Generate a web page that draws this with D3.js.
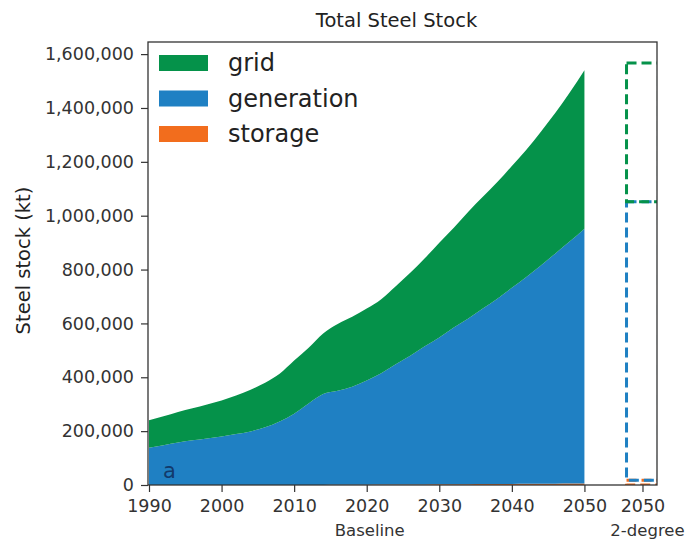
<!DOCTYPE html>
<html>
<head>
<meta charset="utf-8">
<script src="https://cdn.jsdelivr.net/npm/d3@7"></script>
<style>
  body { margin: 0; background: #fff; }
  text { font-family: "DejaVu Sans", sans-serif; }
</style>
</head>
<body>
<svg id="chart" width="689" height="539"></svg>
<script>
// Baseline scenario, steel stock in kt
const years = [1990, 1992, 1994, 1996, 1998, 2000, 2002, 2004, 2006, 2008, 2010, 2012, 2014, 2016, 2018, 2020,
               2022, 2024, 2026, 2028, 2030, 2032, 2034, 2036, 2038, 2040, 2042, 2044, 2046, 2048, 2050];
const storage = [0, 0, 0, 0, 0, 0, 0, 0, 0, 0, 0, 0, 300, 600, 900, 1200,
                 1500, 1800, 2100, 2300, 2600, 2900, 3100, 3400, 3700, 4000, 4300, 4600, 4900, 5200, 5500];
const generation = [138000, 148000, 158000, 166000, 173000, 180000, 189000, 199000, 214000, 236000, 265000, 303000, 337700, 349400, 364100, 386800,
                    413500, 446200, 477900, 512700, 545400, 582100, 614900, 651600, 688300, 728000, 767700, 810400, 855100, 899800, 946500];
const grid = [102000, 107000, 113000, 119000, 126000, 134000, 143000, 155000, 166000, 177000, 197000, 207000, 225000, 248000, 260000, 267000,
              275000, 290000, 308000, 327000, 352000, 370000, 397000, 415000, 433000, 453000, 473000, 497000, 522000, 553000, 588000];

// 2-degree scenario, 2050 stock (kt)
const scenarioKeys = ["storage", "generation", "grid"];
const scenarioValues = [18000, 1034000, 515000];

const seriesKeys = ["storage", "generation", "grid"];
const legendKeys = ["grid", "generation", "storage"];
const colors = { grid: "#05924a", generation: "#1f80c3", storage: "#f26d1d" };

const yTicks = [0, 200000, 400000, 600000, 800000, 1000000, 1200000, 1400000, 1600000];
const xTicks = [1990, 2000, 2010, 2020, 2030, 2040, 2050];
const scenarioPos = 2058;
const scenarioTickLabel = "2050";
const scenarioNames = ["Baseline", "2-degree"];

const svg = d3.select("#chart");
svg.append("rect").attr("width", 689).attr("height", 539).attr("fill", "#fff");

const pLeft = 148, pRight = 657, pTop = 42, pBottom = 485;
const x = d3.scaleLinear().domain([1990, 2060]).range([pLeft + 1, pRight]);
const y = d3.scaleLinear().domain([0, 1645000]).range([pBottom, pTop]);

svg.append("defs").append("clipPath").attr("id", "plotclip")
  .append("rect").attr("x", pLeft).attr("y", pTop).attr("width", pRight - pLeft).attr("height", pBottom - pTop);

// stacked areas
const rows = years.map((yr, i) => ({ year: yr, storage: storage[i], generation: generation[i], grid: grid[i] }));
const stacked = d3.stack().keys(seriesKeys)(rows);
const area = d3.area()
  .x(d => x(d.data.year))
  .y0(d => y(d[0]))
  .y1(d => y(d[1]))
  .curve(d3.curveMonotoneX);

const plot = svg.append("g").attr("clip-path", "url(#plotclip)");
plot.selectAll("path.layer").data(stacked).join("path")
  .attr("class", "layer")
  .attr("fill", d => colors[d.key])
  .attr("d", area);

// 2-degree stacked bar, outlines only
const barW = 4.4;
let base = 0;
const barSegs = scenarioKeys.map((k, i) => {
  const s = { key: k, y0: base, y1: base + scenarioValues[i] };
  base += scenarioValues[i];
  return s;
});
plot.selectAll("rect.bar").data(barSegs).join("rect")
  .attr("class", "bar")
  .attr("x", x(scenarioPos - barW / 2))
  .attr("width", x(scenarioPos + barW / 2) - x(scenarioPos - barW / 2))
  .attr("y", d => y(d.y1))
  .attr("height", d => y(d.y0) - y(d.y1))
  .attr("fill", "none")
  .attr("stroke", d => colors[d.key])
  .attr("stroke-width", 3)
  .attr("stroke-dasharray", "10,5");

// axes
const yAxis = svg.append("g").attr("transform", `translate(${pLeft},0)`)
  .call(d3.axisLeft(y).tickValues(yTicks).tickFormat(d3.format(",")).tickSize(7).tickPadding(7));
const xAxis = svg.append("g").attr("transform", `translate(0,${pBottom})`)
  .call(d3.axisBottom(x).tickValues(xTicks.concat([scenarioPos]))
    .tickFormat(d => d === scenarioPos ? scenarioTickLabel : String(d)).tickSize(7).tickPadding(8));
[yAxis, xAxis].forEach(a => {
  a.select(".domain").remove();
  a.selectAll("line").attr("stroke", "#333").attr("stroke-width", 1.2);
  a.selectAll("text").attr("fill", "#333").style("font-size", "17.5px");
});

// frame
svg.append("rect").attr("x", pLeft).attr("y", pTop).attr("width", pRight - pLeft).attr("height", pBottom - pTop)
  .attr("fill", "none").attr("stroke", "#333").attr("stroke-width", 1.3);

// scenario names below the tick labels
svg.append("text").attr("x", x(2020) + 3).attr("y", 536).attr("text-anchor", "middle")
  .attr("fill", "#333").style("font-size", "16.5px").text(scenarioNames[0]);
svg.append("text").attr("x", x(scenarioPos) + 5).attr("y", 536).attr("text-anchor", "middle")
  .attr("fill", "#333").style("font-size", "16.5px").text(scenarioNames[1]);

// titles
svg.append("text").attr("x", (pLeft + pRight) / 2 - 6).attr("y", 27).attr("text-anchor", "middle")
  .attr("fill", "#222").style("font-size", "19.5px").text("Total Steel Stock");
svg.append("text").attr("transform", `translate(30,${(pTop + pBottom) / 2 - 3}) rotate(-90)`)
  .attr("text-anchor", "middle").attr("fill", "#222").style("font-size", "19.5px").text("Steel stock (kt)");

// panel letter
svg.append("text").attr("x", 163).attr("y", 478).attr("fill", "#123a6b").style("font-size", "21px").text("a");

// legend
const leg = svg.append("g");
legendKeys.forEach((k, i) => {
  const cy = 63 + i * 35.5;
  leg.append("rect").attr("x", 159).attr("y", cy - 8).attr("width", 49).attr("height", 16).attr("fill", colors[k]);
  leg.append("text").attr("x", 228).attr("y", cy + 8).attr("fill", "#222").style("font-size", "24px").text(k);
});
</script>
</body>
</html>
